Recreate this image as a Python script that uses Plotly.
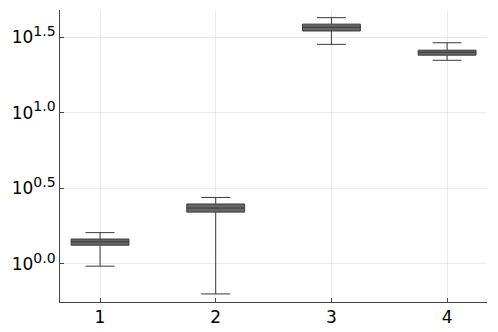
import plotly.graph_objects as go

categories = [1, 2, 3, 4]
lower_whisker = [0.966, 0.633, 28.3, 22.2]
q1 = [1.33, 2.20, 34.7, 24.0]
median = [1.40, 2.34, 36.7, 25.1]
q3 = [1.46, 2.49, 38.5, 25.9]
upper_whisker = [1.61, 2.75, 42.5, 29.0]

ytick_vals = [10 ** 0.0, 10 ** 0.5, 10 ** 1.0, 10 ** 1.5]
ytick_exps = ["0.0", "0.5", "1.0", "1.5"]
ytick_text = ["10<sup><span style='font-size:14px'>%s</span></sup>" % e for e in ytick_exps]

fig = go.Figure()
fig.add_trace(go.Box(
    x=categories,
    q1=q1, median=median, q3=q3,
    lowerfence=lower_whisker, upperfence=upper_whisker,
    width=0.5,
    whiskerwidth=0.5,
    fillcolor="rgba(95,95,95,0.95)",
    line=dict(color="#3a3a3a", width=1),
    boxpoints=False,
    showlegend=False,
))

# page body has an 8px default margin, so the figure is sized to fit the window
fig.update_layout(
    width=490, height=324,
    margin=dict(l=52, r=11, t=2, b=30),
    paper_bgcolor="white", plot_bgcolor="white",
    font=dict(family="DejaVu Sans", size=16, color="black"),
    showlegend=False,
)
fig.update_xaxes(
    range=[0.654, 4.345],
    tickvals=categories, ticktext=[str(c) for c in categories],
    showgrid=True, gridcolor="rgba(0,0,0,0.08)", gridwidth=1,
    showline=True, linecolor="#444", linewidth=1,
    ticks="inside", ticklen=4, tickcolor="#444",
    zeroline=False, automargin=False,
    tickfont=dict(size=17),
)
fig.update_yaxes(
    type="log",
    range=[-0.252, 1.679],
    tickvals=ytick_vals, ticktext=ytick_text,
    showgrid=True, gridcolor="rgba(0,0,0,0.08)", gridwidth=1,
    showline=True, linecolor="#444", linewidth=1,
    ticks="inside", ticklen=4, tickcolor="#444",
    zeroline=False, automargin=False,
    tickfont=dict(size=17),
)

fig.write_html("out.html")
